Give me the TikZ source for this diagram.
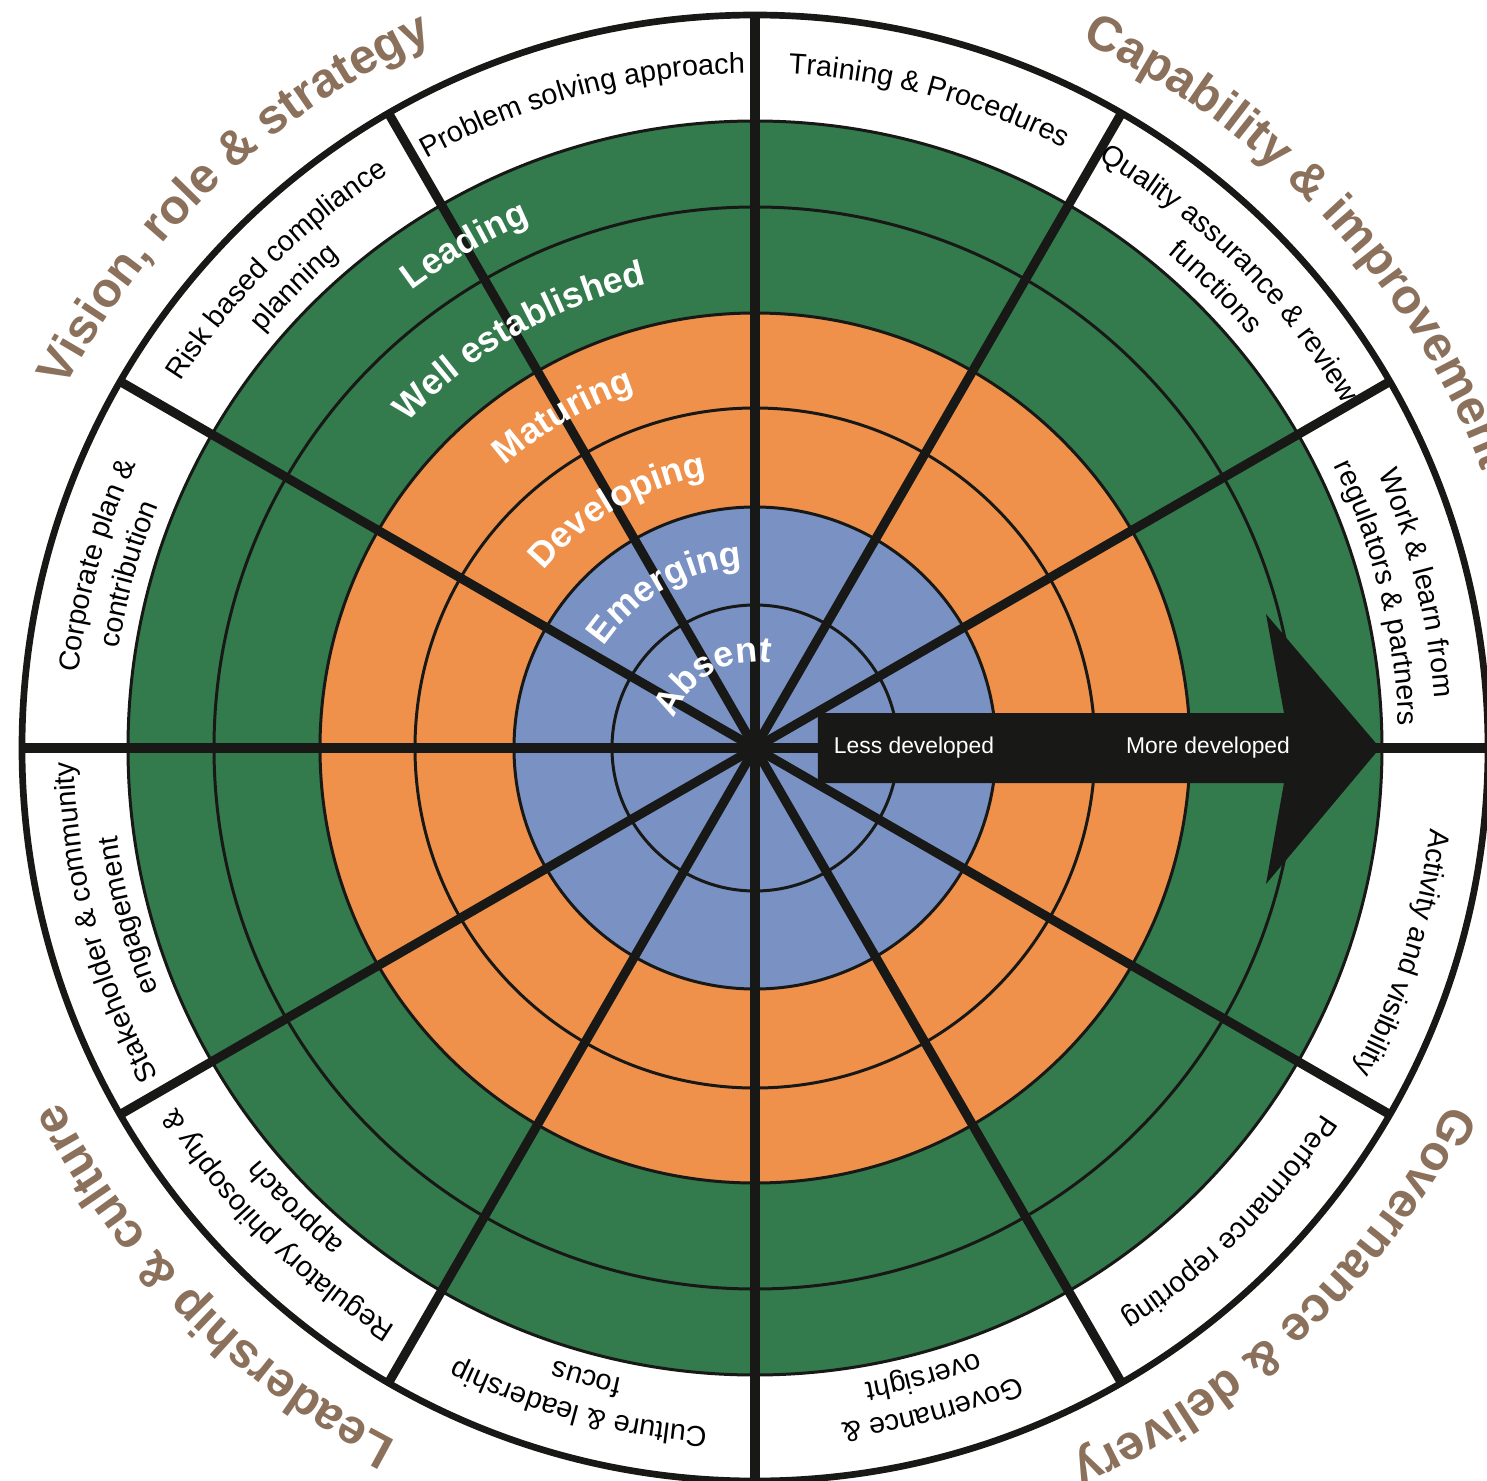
\documentclass[tikz,border=0pt]{standalone}
\usepackage{fontspec}
\setmainfont{Liberation Sans}
\usetikzlibrary{decorations.text}

\definecolor{ringgreen}{RGB}{51,122,77}
\definecolor{ringorange}{RGB}{239,145,75}
\definecolor{ringblue}{RGB}{121,145,195}
\definecolor{catbrown}{RGB}{139,113,91}
\definecolor{ink}{RGB}{24,24,22}

\newcommand{\cellfont}{\fontsize{8.2}{9.8}\selectfont}
\newcommand{\levelfont}{\fontsize{10.2}{12}\selectfont\bfseries}
\newcommand{\catfont}{\fontsize{13.9}{16}\selectfont\bfseries}

% text set along a clockwise arc, centred on a given angle
% #1 colour, #2 centre angle, #3 baseline radius, #4 half span, #5 font, #6 text
\newcommand{\arclabel}[6][black]{%
  \path[decorate,decoration={text along path,text align=center,
      text color=#1,text={|#5|#6}}]
    ({#2+#4}:#3) arc[start angle={#2+#4},end angle={#2-#4},radius=#3];}

\begin{document}
\begin{tikzpicture}[x=0.01cm,y=0.01cm,
  ringline/.style={draw=ink,line width=0.85pt},
  spoke/.style={draw=ink,line width=2.6pt},
  rim/.style={draw=ink,line width=1.9pt},
  arrowtext/.style={text=white,font=\fontsize{6.5}{8}\selectfont,inner sep=0pt}]
\useasboundingbox[fill=white] (-755,-733) rectangle (732,748);

% maturity bands
\fill[white] (0,0) circle[radius=733];
\fill[ringgreen] (0,0) circle[radius=627];
\fill[ringorange] (0,0) circle[radius=435];
\fill[ringblue] (0,0) circle[radius=241];

\foreach \r in {143,241,340,435,541,627}
  \draw[ringline] (0,0) circle[radius=\r];
\draw[rim] (0,0) circle[radius=733];

% twelve sector dividers
\coordinate (hub) at (0,0);
\foreach \a in {0,30,...,330}
  \draw[spoke] (hub) -- (\a:733);

% direction arrow
\fill[ink] (63,35) -- (529,35) -- (511,134) -- (625,0) -- (511,-136)
  -- (529,-35) -- (63,-35) -- cycle;
\node[arrowtext] (less) at (159,0) {Less developed};
\node[arrowtext] (more) at (453,0) {More developed};

% maturity levels
\arclabel[white]{120}{86}{85}{\levelfont}{Absent}
\arclabel[white]{120}{182}{85}{\levelfont}{Emerging}
\arclabel[white]{120}{276}{85}{\levelfont}{Developing}
\arclabel[white]{120}{377}{85}{\levelfont}{Maturing}
\arclabel[white]{120}{476}{85}{\levelfont}{Well established}
\arclabel[white]{120}{572}{85}{\levelfont}{Leading}

% sector labels
\arclabel{105}{675}{25}{\cellfont}{Problem solving approach}
\arclabel{75}{675}{25}{\cellfont}{Training {\&} Procedures}
\arclabel{45}{681}{25}{\cellfont}{Quality assurance {\&} review}
\arclabel{45}{644}{25}{\cellfont}{functions}
\arclabel{14}{681}{25}{\cellfont}{Work {\&} learn from}
\arclabel{14}{644}{25}{\cellfont}{regulators {\&} partners}
\arclabel{-17.5}{680}{25}{\cellfont}{Activity and visibility}
\arclabel{-45}{675}{25}{\cellfont}{Performance reporting}
\arclabel{-75}{681}{25}{\cellfont}{Governance {\&}}
\arclabel{-75}{644}{25}{\cellfont}{oversight}
\arclabel{-105}{681}{25}{\cellfont}{Culture {\&} leadership}
\arclabel{-105}{644}{25}{\cellfont}{focus}
\arclabel{-135}{681}{25}{\cellfont}{Regulatory philosophy {\&}}
\arclabel{-135}{644}{25}{\cellfont}{approach}
\arclabel{195}{681}{25}{\cellfont}{Stakeholder {\&} community}
\arclabel{195}{644}{25}{\cellfont}{engagement}
\arclabel{164.5}{681}{25}{\cellfont}{Corporate plan {\&}}
\arclabel{164.5}{644}{25}{\cellfont}{contribution}
\arclabel{135}{681}{25}{\cellfont}{Risk based compliance}
\arclabel{135}{644}{25}{\cellfont}{planning}

% theme headings round the rim
\arclabel[catbrown]{133.5}{778}{40}{\catfont}{Vision, role {\&} strategy}
\arclabel[catbrown]{43}{778}{40}{\catfont}{Capability {\&} improvement}
\arclabel[catbrown]{-46.6}{780}{40}{\catfont}{Governance {\&} delivery}
\arclabel[catbrown]{-135.2}{780}{40}{\catfont}{Leadership {\&} culture}
\end{tikzpicture}
\end{document}
